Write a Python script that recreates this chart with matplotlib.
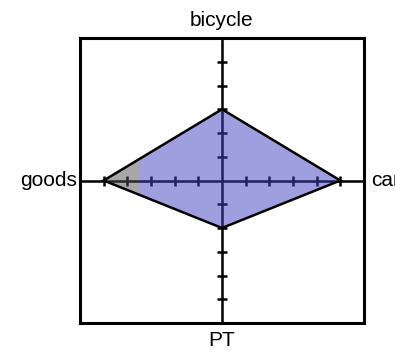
import numpy as np
import matplotlib
matplotlib.use('Agg')
import matplotlib.pyplot as plt
from matplotlib.patches import Polygon, Rectangle

# data
categories = ['car', 'bicycle', 'goods', 'PT']
values = [5, 3, 5, 2]
angles_deg = [0, 90, 180, 270]
ticks = [1, 2, 3, 4, 5]
axis_max = 6
gray_until = -3.45   # left part of the shape is rendered grey in the source

plt.rcParams['font.family'] = ['Liberation Sans', 'DejaVu Sans']

fig = plt.figure(figsize=(3.95, 3.57), dpi=100)
ax = fig.add_axes([80/395, 34/357, 284/395, 285/357])
ax.set_xlim(-axis_max, axis_max)
ax.set_ylim(-axis_max, axis_max)
ax.set_xticks([]); ax.set_yticks([])
for sp in ax.spines.values():
    sp.set_linewidth(2.2)
    sp.set_color('black')

# axes cross + ticks
ax.axhline(0, color='black', lw=1.8, zorder=1)
ax.axvline(0, color='black', lw=1.8, zorder=1)
tk = np.array(ticks, dtype=float)
ax.plot(np.concatenate([tk, -tk]), np.zeros(2 * len(tk)), ls='none', marker='|',
        ms=7, mew=1.8, color='black', zorder=1)
ax.plot(np.zeros(2 * len(tk)), np.concatenate([tk, -tk]), ls='none', marker='_',
        ms=7, mew=1.8, color='black', zorder=1)

# shape
ang = np.radians(angles_deg)
xs = np.array(values) * np.cos(ang)
ys = np.array(values) * np.sin(ang)
pts = np.column_stack([xs, ys])

blue = Polygon(pts, closed=True, facecolor='#4040c0', alpha=0.5, edgecolor='none', zorder=2)
ax.add_patch(blue)
blue.set_clip_path(Rectangle((gray_until, -axis_max), axis_max - gray_until, 2 * axis_max,
                             transform=ax.transData))
grey = Polygon(pts, closed=True, facecolor='#505050', alpha=0.5, edgecolor='none', zorder=2)
ax.add_patch(grey)
grey.set_clip_path(Rectangle((-axis_max, -axis_max), gray_until + axis_max, 2 * axis_max,
                             transform=ax.transData))
ax.add_patch(Polygon(pts, closed=True, facecolor='none', edgecolor='black', lw=1.8, zorder=3))

# labels
fs = 15
ax.text(0.5, 1.063, 'bicycle', transform=ax.transAxes, ha='center', va='center', fontsize=fs)
ax.text(0.5, -0.06, 'PT', transform=ax.transAxes, ha='center', va='center', fontsize=fs)
ax.text(-0.012, 0.5, 'goods', transform=ax.transAxes, ha='right', va='center', fontsize=fs)
ax.text(1.025, 0.5, 'car', transform=ax.transAxes, ha='left', va='center', fontsize=fs)

fig.savefig('out.png', dpi=100)
